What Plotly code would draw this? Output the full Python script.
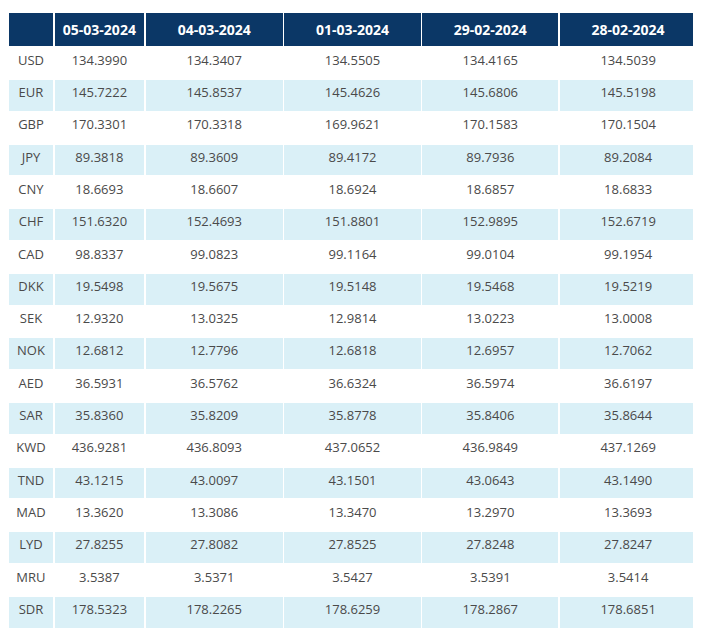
import plotly.graph_objects as go

dates = ["05-03-2024", "04-03-2024", "01-03-2024", "29-02-2024", "28-02-2024"]
currencies = ["USD", "EUR", "GBP", "JPY", "CNY", "CHF", "CAD", "DKK", "SEK", "NOK",
              "AED", "SAR", "KWD", "TND", "MAD", "LYD", "MRU", "SDR"]

rate_0503 = ["134.3990", "145.7222", "170.3301", "89.3818", "18.6693", "151.6320", "98.8337", "19.5498", "12.9320",
             "12.6812", "36.5931", "35.8360", "436.9281", "43.1215", "13.3620", "27.8255", "3.5387", "178.5323"]
rate_0403 = ["134.3407", "145.8537", "170.3318", "89.3609", "18.6607", "152.4693", "99.0823", "19.5675", "13.0325",
             "12.7796", "36.5762", "35.8209", "436.8093", "43.0097", "13.3086", "27.8082", "3.5371", "178.2265"]
rate_0103 = ["134.5505", "145.4626", "169.9621", "89.4172", "18.6924", "151.8801", "99.1164", "19.5148", "12.9814",
             "12.6818", "36.6324", "35.8778", "437.0652", "43.1501", "13.3470", "27.8525", "3.5427", "178.6259"]
rate_2902 = ["134.4165", "145.6806", "170.1583", "89.7936", "18.6857", "152.9895", "99.0104", "19.5468", "13.0223",
             "12.6957", "36.5974", "35.8406", "436.9849", "43.0643", "13.2970", "27.8248", "3.5391", "178.2867"]
rate_2802 = ["134.5039", "145.5198", "170.1504", "89.2084", "18.6833", "152.6719", "99.1954", "19.5219", "13.0008",
             "12.7062", "36.6197", "35.8644", "437.1269", "43.1490", "13.3693", "27.8247", "3.5414", "178.6851"]

navy = "#0b3766"
stripe = "#daf0f7"
row_fill = ["white" if i % 2 == 0 else stripe for i in range(len(currencies))]

# page body adds an 8px offset, so the domain is shifted to compensate
fig = go.Figure(go.Table(
    columnwidth=[46, 91, 139, 138, 138, 138],
    header=dict(
        values=["<b></b>"] + ["<b>%s</b>" % d for d in dates],
        fill_color=navy,
        line_color="white", line_width=1.5,
        font=dict(family="Open Sans", size=14, color="white"),
        align="center", height=32,
    ),
    cells=dict(
        values=[currencies, rate_0503, rate_0403, rate_0103, rate_2902, rate_2802],
        fill_color=[row_fill] * 6,
        line_color="white", line_width=1.5,
        font=dict(family="Open Sans", size=13, color="#4a4a4a"),
        align="center", height=32.3,
    ),
    domain=dict(x=[0, 689 / 701], y=[0, 1 - 4 / 636]),
))

fig.update_layout(width=701, height=636, margin=dict(l=0, r=0, t=0, b=0),
                  paper_bgcolor="white")
fig.write_html("out.html")
